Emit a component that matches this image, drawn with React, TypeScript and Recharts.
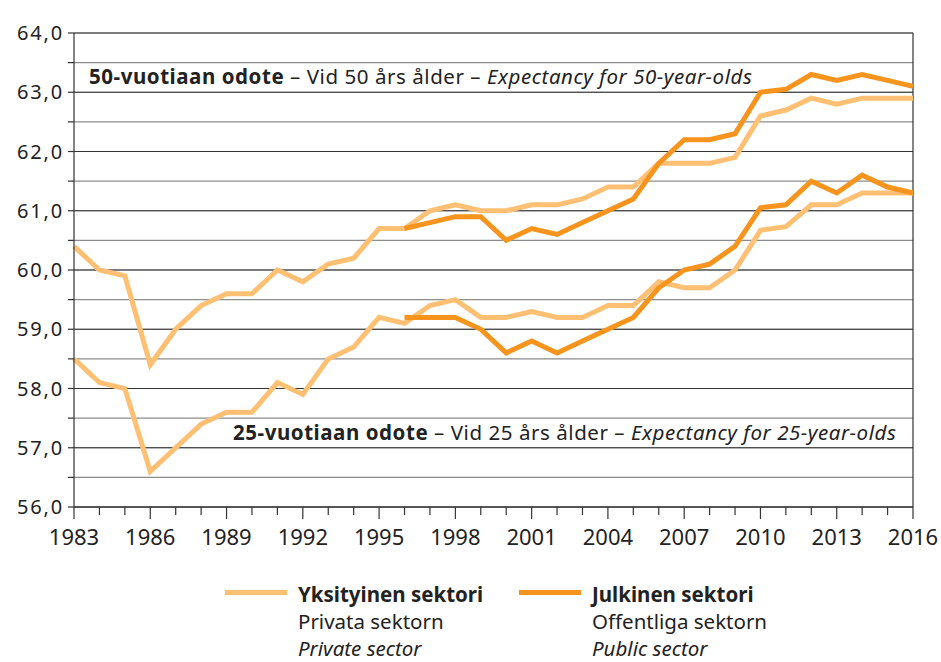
import { LineChart, Line, XAxis, YAxis, CartesianGrid, ReferenceLine } from "recharts";

const years = [
  1983, 1984, 1985, 1986, 1987, 1988, 1989, 1990, 1991, 1992, 1993, 1994,
  1995, 1996, 1997, 1998, 1999, 2000, 2001, 2002, 2003, 2004, 2005, 2006,
  2007, 2008, 2009, 2010, 2011, 2012, 2013, 2014, 2015, 2016,
];

// expectancy at 50
const private50 = [
  60.4, 60.0, 59.9, 58.4, 59.0, 59.4, 59.6, 59.6, 60.0, 59.8, 60.1, 60.2,
  60.7, 60.7, 61.0, 61.1, 61.0, 61.0, 61.1, 61.1, 61.2, 61.4, 61.4, 61.8,
  61.8, 61.8, 61.9, 62.6, 62.7, 62.9, 62.8, 62.9, 62.9, 62.9,
];
const public50 = [
  null, null, null, null, null, null, null, null, null, null, null, null,
  null, 60.7, 60.8, 60.9, 60.9, 60.5, 60.7, 60.6, 60.8, 61.0, 61.2, 61.8,
  62.2, 62.2, 62.3, 63.0, 63.05, 63.3, 63.2, 63.3, 63.2, 63.1,
];

// expectancy at 25
const private25 = [
  58.5, 58.1, 58.0, 56.6, 57.0, 57.4, 57.6, 57.6, 58.1, 57.9, 58.5, 58.7,
  59.2, 59.1, 59.4, 59.5, 59.2, 59.2, 59.3, 59.2, 59.2, 59.4, 59.4, 59.8,
  59.7, 59.7, 60.0, 60.67, 60.73, 61.1, 61.1, 61.3, 61.3, 61.3,
];
const public25 = [
  null, null, null, null, null, null, null, null, null, null, null, null,
  null, 59.2, 59.2, 59.2, 59.0, 58.6, 58.8, 58.6, 58.8, 59.0, 59.2, 59.7,
  60.0, 60.1, 60.4, 61.05, 61.1, 61.5, 61.3, 61.6, 61.4, 61.3,
];

const yTicks = [56, 56.5, 57, 57.5, 58, 58.5, 59, 59.5, 60, 60.5, 61, 61.5, 62, 62.5, 63, 63.5, 64];
const yMajor = [56, 57, 58, 59, 60, 61, 62, 63, 64];
const xLabelled = [1983, 1986, 1989, 1992, 1995, 1998, 2001, 2004, 2007, 2010, 2013, 2016];

const legendItems = [
  { key: "private", fi: "Yksityinen sektori", sv: "Privata sektorn", en: "Private sector" },
  { key: "public", fi: "Julkinen sektori", sv: "Offentliga sektorn", en: "Public sector" },
];

const LIGHT = "#ffc074";
const DARK = "#f7941e";
const FONT = "'Noto Sans', sans-serif";

const data = years.map((year, i) => ({
  year,
  private50: private50[i],
  public50: public50[i],
  private25: private25[i],
  public25: public25[i],
}));

const XTick = ({ x, y, payload }: any) => {
  const major = xLabelled.includes(payload.value);
  return (
    <g>
      <line x1={x} x2={x} y1={y} y2={y + (major ? 12 : 8)} stroke="#333" strokeWidth={1.2} />
      {major && (
        <text x={x} y={y + 38} textAnchor="middle" fontSize={22} fill="#222" fontFamily={FONT}>
          {payload.value}
        </text>
      )}
    </g>
  );
};

const YTick = ({ x, y, payload }: any) => {
  const major = Number.isInteger(payload.value);
  return (
    <g>
      <line x1={x - 6} x2={x} y1={y} y2={y} stroke="#333" strokeWidth={1.2} />
      {major && (
        <text
          x={x - 10}
          y={y + 7}
          textAnchor="end"
          fontSize={20}
          letterSpacing={1.8}
          fill="#222"
          fontFamily={FONT}
        >
          {payload.value.toFixed(1).replace(".", ",")}
        </text>
      )}
    </g>
  );
};

const Annotation = ({ viewBox, age, dx }: any) => (
  <text x={viewBox.x + dx} y={viewBox.y + 7} fontSize={20.5} letterSpacing={0.55} fill="#222" fontFamily={FONT}>
    <tspan fontWeight="bold">{age}-vuotiaan odote</tspan>
    <tspan> – Vid {age} års ålder – </tspan>
    <tspan fontStyle="italic">Expectancy for {age}-year-olds</tspan>
  </text>
);

const ChartLegend = () => (
  <div style={{ position: "absolute", left: 0, top: 581, width: 941, fontFamily: FONT, fontSize: 20.5, color: "#222" }}>
    {legendItems.map((item, i) => {
      const left = i === 0 ? 225 : 519;
      return (
        <div key={item.key}>
          <div
            style={{
              position: "absolute",
              left,
              top: 9,
              width: 62,
              height: 5,
              background: i === 0 ? LIGHT : DARK,
            }}
          />
          <div style={{ position: "absolute", left: left + 73, top: 0, lineHeight: "27px", whiteSpace: "nowrap" }}>
            <div style={{ fontWeight: "bold" }}>{item.fi}</div>
            <div>{item.sv}</div>
            <div style={{ fontStyle: "italic" }}>{item.en}</div>
          </div>
        </div>
      );
    })}
  </div>
);

export default function App() {
  return (
    <div style={{ position: "absolute", left: 0, top: 0, width: 941, height: 662, background: "#fff", overflow: "hidden" }}>
      <LineChart width={941} height={662} data={data} margin={{ top: 33, right: 28, bottom: 125, left: 0 }}>
        <CartesianGrid vertical={false} stroke="#8c8c8c" strokeWidth={1.2} />
        {yMajor.map((v) => (
          <ReferenceLine key={v} y={v} stroke="#333" strokeWidth={1.2} />
        ))}
        <ReferenceLine x={2016} stroke="#333" strokeWidth={1.2} />
        <ReferenceLine y={63.25} stroke="none" label={<Annotation age={50} dx={15} />} />
        <ReferenceLine y={57.25} stroke="none" label={<Annotation age={25} dx={159} />} />
        <XAxis
          dataKey="year"
          type="number"
          domain={[1983, 2016]}
          ticks={years}
          interval={0}
          height={30}
          tickLine={false}
          tickSize={0}
          tickMargin={0}
          axisLine={{ stroke: "#333", strokeWidth: 1.2 }}
          tick={<XTick />}
        />
        <YAxis
          width={74}
          domain={[56, 64]}
          ticks={yTicks}
          interval={0}
          tickLine={false}
          tickSize={0}
          tickMargin={0}
          axisLine={{ stroke: "#333", strokeWidth: 1.2 }}
          tick={<YTick />}
        />
        <Line dataKey="private50" stroke={LIGHT} strokeWidth={5} dot={false} isAnimationActive={false} />
        <Line dataKey="private25" stroke={LIGHT} strokeWidth={5} dot={false} isAnimationActive={false} />
        <Line dataKey="public50" stroke={DARK} strokeWidth={5} dot={false} isAnimationActive={false} />
        <Line dataKey="public25" stroke={DARK} strokeWidth={5} dot={false} isAnimationActive={false} />
      </LineChart>
      <ChartLegend />
    </div>
  );
}
